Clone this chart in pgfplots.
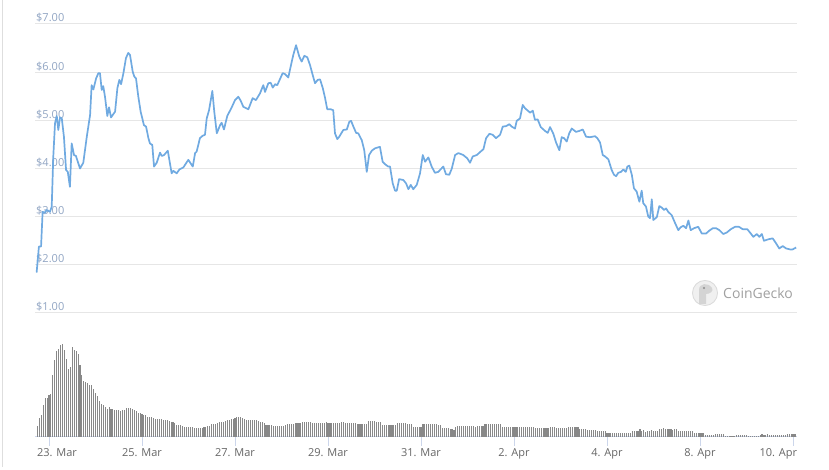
\documentclass[border=0pt]{standalone}
\usepackage{pgfplots}
\pgfplotsset{compat=1.18}
\usepackage{pgfplotstable}
\usepackage{fontspec}
\setmainfont{Open Sans}
\definecolor{linecol}{RGB}{112,170,225}
\definecolor{gridcol}{RGB}{230,230,230}
\definecolor{ylab}{RGB}{145,165,195}
\definecolor{xlab}{RGB}{102,102,102}
\definecolor{axcol}{RGB}{204,214,235}
\definecolor{barcol}{RGB}{136,136,136}
\definecolor{wmark}{RGB}{160,160,160}

% hourly volume (relative units), first bar at hour -6 (23 Mar 00:00 = 0)
\pgfplotstableread[row sep=\\]{v\\
11\\19\\22\\32\\39\\39\\42\\43\\62\\77\\86\\88\\92\\93\\87\\78\\68\\70\\90\\87\\
86\\83\\72\\62\\56\\55\\54\\52\\52\\48\\44\\41\\36\\33\\32\\30\\28\\30\\
28\\28\\27\\27\\27\\26\\27\\27\\29\\29\\29\\28\\27\\26\\24\\24\\23\\22\\22\\
20\\20\\20\\19\\18\\18\\18\\18\\17\\17\\17\\16\\15\\15\\14\\12\\12\\12\\11\\
10\\10\\10\\10\\10\\9\\9\\9\\9\\9\\10\\10\\11\\11\\13\\13\\13\\14\\15\\15\\15\\16\\
17\\17\\18\\18\\19\\20\\20\\20\\19\\18\\17\\17\\17\\17\\17\\17\\16\\15\\15\\14\\
12\\12\\12\\12\\11\\11\\11\\11\\11\\11\\12\\13\\13\\13\\13\\14\\14\\14\\14\\15\\
15\\15\\15\\15\\14\\14\\14\\14\\14\\14\\14\\15\\14\\14\\14\\14\\14\\14\\14\\15\\15\\
14\\14\\14\\14\\14\\14\\13\\13\\13\\13\\13\\13\\16\\16\\16\\16\\15\\15\\15\\
12\\12\\12\\12\\12\\12\\12\\12\\14\\14\\14\\14\\14\\13\\13\\13\\10\\10\\10\\10\\10\\
13\\13\\13\\13\\13\\13\\13\\13\\12\\12\\9\\9\\9\\9\\8\\8\\7\\10\\
11\\11\\11\\11\\11\\11\\11\\11\\11\\10\\11\\11\\11\\11\\
13\\13\\13\\13\\13\\13\\13\\13\\13\\
10\\10\\10\\10\\10\\10\\10\\10\\10\\10\\10\\10\\10\\10\\10\\10\\10\\
9\\9\\9\\9\\9\\9\\9\\9\\10\\10\\10\\9\\9\\9\\9\\9\\9\\10\\10\\10\\10\\10\\10\\
8\\8\\8\\8\\7\\7\\7\\7\\7\\6\\6\\6\\6\\6\\
4\\4\\4\\4\\4\\4\\4\\4\\4\\4\\4\\4\\4\\6\\6\\6\\6\\8\\
6\\7\\5\\6\\6\\7\\6\\6\\6\\8\\8\\9\\8\\8\\8\\8\\7\\8\\8\\
6\\6\\6\\6\\6\\6\\6\\6\\4\\4\\4\\4\\4\\4\\2\\2\\2\\2\\2\\3\\3\\3\\3\\3\\
1\\1\\1\\1\\1\\1\\2\\2\\2\\2\\2\\2\\1\\1\\1\\1\\1\\1\\2\\3\\2\\2\\3\\2\\
2\\2\\2\\2\\2\\2\\2\\2\\3\\3\\3\\3\\3\\
}\voltable

\begin{document}
\begin{tikzpicture}
\path[use as bounding box] (0pt,0pt) rectangle (829pt,470pt);
\draw[color=black!13, line width=1pt] (2pt,3pt) -- (2pt,470pt);

% watermark
\fill[color=black!6] (705pt,177pt) circle (13pt);
\draw[color=black!14, line width=0.8pt] (705pt,177pt) circle (12.5pt);
\fill[color=black!17] (699pt,166pt) -- (699pt,180pt) .. controls (699pt,187pt) and (708pt,188pt) .. (712pt,182pt) .. controls (714pt,179pt) and (710pt,176pt) .. (706pt,176pt) -- (706pt,166pt) -- cycle;
\fill[color=black!45] (704pt,182pt) circle (1.1pt);
\node[anchor=west, inner sep=0pt, text=wmark, font=\fontsize{14}{16}\selectfont] at (723pt,177pt) {CoinGecko};

\begin{axis}[at={(35pt,157pt)}, anchor=south west, scale only axis,
  width=762pt, height=289pt,
  xmin=-7.23, xmax=386.06, ymin=1, ymax=7,
  xtick=\empty, ytick={1,2,3,4,5,6,7},
  yticklabels={\$1.00,\$2.00,\$3.00,\$4.00,\$5.00,\$6.00,\$7.00},
  ymajorgrids, grid style={gridcol, line width=1pt},
  axis line style={draw=none}, major tick length=0pt, tick style={draw=none},
  yticklabel style={anchor=base west, inner sep=0pt, xshift=1pt, yshift=2pt,
    text=ylab, font=\fontsize{11}{13}\selectfont}]
\addplot[linecol, line width=1.7pt, line join=round, no markers] coordinates {
(-6.4,1.84) (-5.2,2.38) (-4.1,2.38) (-3.3,3.10) (-2.1,3.08) (-1.2,3.14) (0.5,3.10)
(1.4,3.21) (2.2,4.24) (3.1,4.94) (4.0,5.09) (4.8,4.80) (5.7,5.06) (6.6,5.04)
(7.7,4.66) (8.8,3.97) (9.7,3.93) (10.8,3.62) (11.7,4.52) (12.9,4.28) (13.9,4.26)
(16.0,4.00) (17.7,4.12) (19.5,4.66) (21.2,5.11) (22.0,5.73) (22.9,5.64) (24.3,5.87)
(25.5,5.98) (26.3,5.98) (27.2,5.63) (28.0,5.71) (28.9,5.49) (30.1,5.09) (31.0,5.27)
(32.0,5.06) (34.1,5.18) (35.3,5.67) (36.3,5.84) (37.2,5.75) (38.4,5.98) (39.7,6.29)
(40.9,6.40) (41.8,6.36) (43.2,6.01) (44.0,5.91) (44.9,5.87) (46.1,5.49) (47.3,5.18)
(49.0,4.90) (50.1,4.87) (51.3,4.63) (52.1,4.52) (53.3,4.49) (54.2,4.04) (55.6,4.12)
(57.3,4.33) (58.2,4.26) (59.4,4.28) (61.3,4.37) (63.3,3.90) (64.2,3.95) (65.9,3.90)
(67.3,3.98) (69.3,4.02) (71.9,4.18) (74.2,4.04) (75.4,4.32) (76.2,4.35) (77.9,4.63)
(79.3,4.68) (80.5,4.70) (81.4,5.04) (82.6,5.21) (84.3,5.61) (85.3,5.18) (86.6,4.73)
(88.3,4.90) (89.1,4.95) (90.3,4.81) (92.0,5.09) (94.3,5.27) (96.0,5.42) (97.7,5.49)
(98.9,5.41) (100.3,5.28) (102.9,5.23) (105.1,5.46) (106.8,5.42) (108.9,5.56)
(110.6,5.73) (111.5,5.59) (113.2,5.77) (114.4,5.78) (115.5,5.68) (116.7,5.75)
(117.8,5.73) (120.6,5.98) (121.8,5.96) (123.5,5.89) (125.3,6.22) (126.1,6.36)
(127.5,6.56) (129.2,6.32) (130.4,6.22) (131.8,6.34) (133.3,6.31) (134.7,6.15)
(136.1,5.94) (137.3,5.77) (138.7,5.84) (139.9,5.85) (141.3,5.67) (142.5,5.46)
(143.6,5.23) (145.4,5.23) (146.7,5.21) (147.6,4.73) (148.8,4.61) (149.8,4.66)
(151.9,4.80) (153.7,4.81) (155.0,4.97) (155.9,4.99) (157.1,4.87) (158.5,4.74)
(159.6,4.73) (161.4,4.59) (162.7,4.38) (164.0,3.93) (165.2,4.28) (166.6,4.37)
(168.3,4.42) (170.8,4.45) (172.2,4.14) (173.4,4.09) (175.1,4.04) (176.0,4.04)
(177.4,3.69) (178.6,3.54) (179.5,3.54) (180.7,3.78) (182.9,3.76) (184.3,3.69)
(185.5,3.57) (186.7,3.66) (188.0,3.57) (189.8,3.66) (191.5,3.90) (192.9,4.28)
(194.1,4.14) (195.8,4.23) (197.5,4.04) (199.2,3.91) (200.9,3.93) (203.5,4.04)
(204.9,3.88) (206.6,3.87) (207.9,4.00) (209.6,4.28) (211.3,4.32) (213.8,4.28)
(215.9,4.21) (217.3,4.12) (218.7,4.25) (220.8,4.28) (223.3,4.37) (224.2,4.40)
(225.6,4.63) (227.3,4.72) (229.0,4.70) (230.7,4.63) (232.8,4.70) (234.2,4.87)
(235.9,4.88) (237.6,4.92) (238.8,4.87) (240.5,4.83) (241.4,4.99) (243.1,5.04)
(244.5,5.32) (245.7,5.25) (248.3,5.16) (249.7,5.20) (250.8,5.01) (252.2,5.02)
(253.8,4.86) (256.0,4.78) (257.4,4.74) (258.6,4.86) (260.3,4.72) (261.7,4.54)
(263.4,4.38) (264.6,4.65) (265.8,4.63) (267.2,4.56) (268.5,4.73) (269.8,4.83)
(272.0,4.76) (273.7,4.78) (275.5,4.81) (277.2,4.66) (279.2,4.65) (281.8,4.67)
(283.0,4.63) (284.4,4.54) (285.8,4.28) (287.0,4.25) (288.7,4.19) (290.4,3.97)
(291.6,3.87) (292.7,3.84) (293.8,3.91) (295.2,3.93) (296.4,3.98) (297.7,3.93)
(298.5,4.04) (299.5,4.06) (300.8,3.87) (301.9,3.59) (303.3,3.52) (304.7,3.31)
(305.9,3.54) (306.7,3.28) (308.1,3.21) (309.3,3.00) (310.2,2.97) (311.1,3.36)
(311.9,2.93) (313.7,2.99) (315.0,3.22) (316.2,3.19) (317.4,3.14) (318.5,3.17)
(319.6,3.10) (321.4,3.03) (323.1,2.87) (324.8,2.72) (326.0,2.78) (327.4,2.81)
(328.8,2.76) (330.0,2.92) (331.2,2.72) (332.9,2.76) (335.1,2.79) (336.9,2.65)
(339.1,2.65) (340.8,2.71) (342.6,2.76) (344.3,2.76) (346.0,2.72) (348.0,2.64)
(349.8,2.67) (351.9,2.74) (354.1,2.79) (356.1,2.79) (358.0,2.74) (360.4,2.74)
(362.2,2.65) (363.5,2.58) (365.3,2.64) (366.6,2.58) (367.9,2.64) (369.0,2.50)
(371.3,2.53) (373.5,2.55) (375.2,2.45) (376.9,2.34) (378.7,2.39) (380.4,2.34)
(382.5,2.32) (383.8,2.32) (385.6,2.36)
};
\end{axis}

\begin{axis}[at={(35pt,33pt)}, anchor=south west, scale only axis,
  width=762pt, height=100pt,
  xmin=-7.23, xmax=386.06, ymin=0, ymax=100,
  axis x line*=bottom, axis y line=none,
  x axis line style={-, draw=axcol, line width=1pt},
  xtick={0,48,96,144,192,240,288,336,384},
  xticklabels={{\makebox[0pt][l]{\hspace*{-12pt}23. Mar}},25. Mar,27. Mar,29. Mar,31. Mar,2. Apr,4. Apr,8. Apr,{\makebox[0pt][r]{10. Apr\hspace*{-4pt}}}},
  tick align=outside, major tick length=9pt,
  xtick style={draw=axcol, line width=1pt},
  xticklabel style={text=xlab, font=\fontsize{11}{13}\selectfont, anchor=north,
    inner sep=0pt, yshift=-2pt},
  clip=false]
\addplot[ycomb, draw=barcol, line width=1.1pt, no markers]
  table[x expr=\coordindex-6, y=v]{\voltable};
\end{axis}
\end{tikzpicture}
\end{document}
